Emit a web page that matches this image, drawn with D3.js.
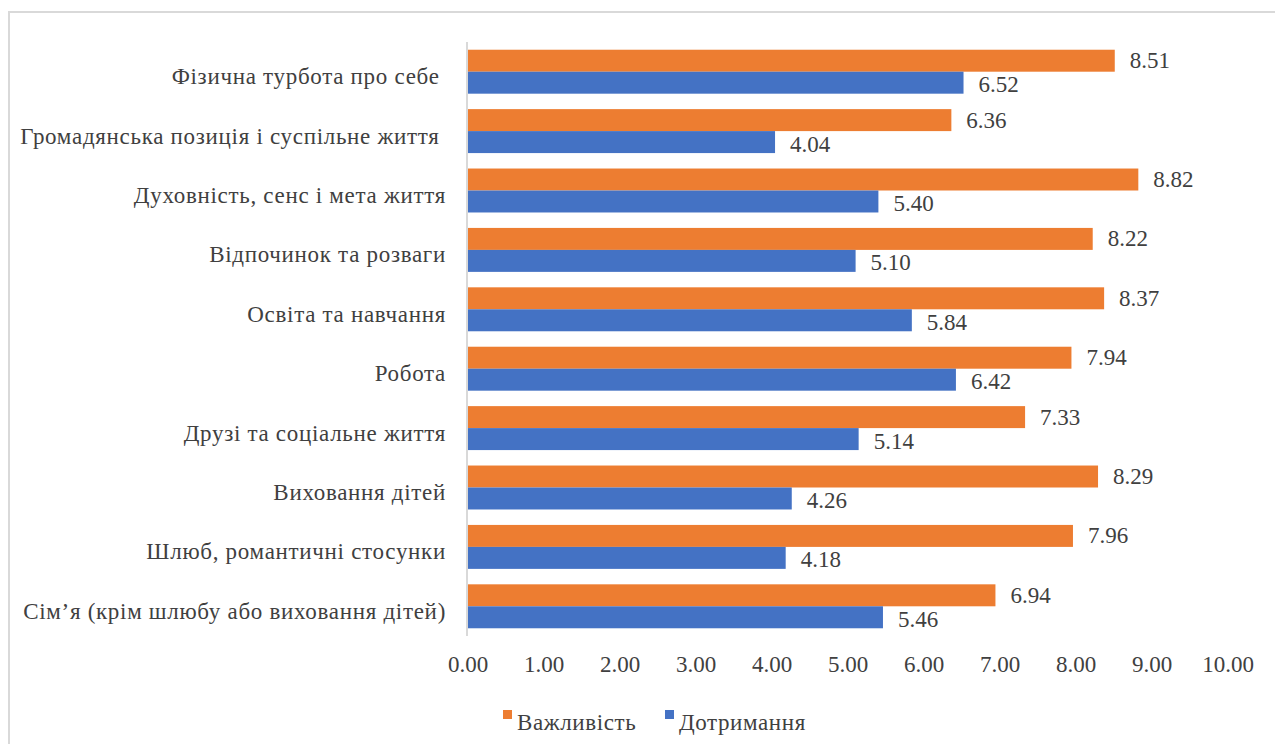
<!DOCTYPE html>
<html>
<head>
<meta charset="utf-8">
<script src="https://cdn.jsdelivr.net/npm/d3@7"></script>
<style>
  body { margin: 0; background: #fff; }
  svg { display: block; }
  svg text { white-space: pre; }
</style>
</head>
<body>
<div id="app"></div>
<script>
// categories top to bottom (two of them keep their trailing space)
const categories = [
	'Фізична турбота про себе ',
	'Громадянська позиція і суспільне життя ',
	'Духовність, сенс і мета життя',
	'Відпочинок та розваги',
	'Освіта та навчання',
	'Робота',
	'Друзі та соціальне життя',
	'Виховання дітей',
	'Шлюб, романтичні стосунки',
	'Сім’я (крім шлюбу або виховання дітей)',
];
const importance = [8.51, 6.36, 8.82, 8.22, 8.37, 7.94, 7.33, 8.29, 7.96, 6.94];
const adherence = [6.52, 4.04, 5.40, 5.10, 5.84, 6.42, 5.14, 4.26, 4.18, 5.46];
const seriesNames = ['Важливість', 'Дотримання'];
const seriesColors = ['#ed7d31', '#4472c4'];
const xTicks = [0, 1, 2, 3, 4, 5, 6, 7, 8, 9, 10];

const W = 1275, H = 744;
const textColor = '#404040';
const FS = 23;
const FONT = '"Liberation Serif", "Times New Roman", serif';

const svg = d3.select('#app').append('svg').attr('width', W).attr('height', H);

// chart frame (cut off at right and bottom)
svg.append('rect')
	.attr('x', 9).attr('y', 12)
	.attr('width', W + 20).attr('height', H + 20)
	.attr('fill', 'none').attr('stroke', '#d9d9d9').attr('stroke-width', 2);

const x = d3.scaleLinear().domain([0, 10]).range([468, 1228]);
const y = d3.scaleBand().domain(categories).range([42, 636]).paddingInner(0.26).paddingOuter(0.13);
const ySub = d3.scaleBand().domain(seriesNames).range([0, y.bandwidth()]);

const rows = categories.map((c, i) => ({ cat: c, vals: [importance[i], adherence[i]] }));

const g = svg.selectAll('g.row').data(rows).join('g')
	.attr('class', 'row')
	.attr('transform', (d) => `translate(0,${y(d.cat)})`);

g.selectAll('rect')
	.data((d) => d.vals.map((v, k) => ({ v, k })))
	.join('rect')
	.attr('x', x(0))
	.attr('y', (d) => ySub(seriesNames[d.k]))
	.attr('width', (d) => x(d.v) - x(0))
	.attr('height', ySub.bandwidth())
	.attr('fill', (d) => seriesColors[d.k]);

g.selectAll('text.val')
	.data((d) => d.vals.map((v, k) => ({ v, k })))
	.join('text')
	.attr('class', 'val')
	.attr('x', (d) => x(d.v) + 15)
	.attr('y', (d) => ySub(seriesNames[d.k]) + ySub.bandwidth() / 2 + (d.k === 1 ? 2 : 0))
	.attr('dominant-baseline', 'central')
	.style('font-family', FONT)
	.attr('font-size', FS).attr('fill', textColor)
	.text((d) => d.v.toFixed(2));

// category labels
svg.append('g')
	.selectAll('text')
	.data(categories)
	.join('text')
	.attr('x', 446)
	.attr('y', (d) => y(d) + y.bandwidth() / 2 + 5)
	.attr('dominant-baseline', 'central')
	.attr('text-anchor', 'end')
	.style('font-family', FONT)
	.style('letter-spacing', '0.7px')
	.attr('font-size', FS).attr('fill', textColor)
	.text((d) => d);

// vertical axis line
svg.append('line')
	.attr('x1', x(0) - 1).attr('x2', x(0) - 1)
	.attr('y1', 42).attr('y2', 636)
	.attr('stroke', '#d9d9d9').attr('stroke-width', 2);

// x tick labels
svg.append('g')
	.selectAll('text')
	.data(xTicks)
	.join('text')
	.attr('x', (d) => x(d))
	.attr('y', 664)
	.attr('dominant-baseline', 'central')
	.attr('text-anchor', 'middle')
	.style('font-family', FONT)
	.attr('font-size', FS).attr('fill', textColor)
	.text((d) => d.toFixed(2));

// legend
const legendX = [503, 665];
const lg = svg.append('g').selectAll('g').data(seriesNames).join('g')
	.attr('transform', (d, i) => `translate(${legendX[i]},0)`);
lg.append('rect')
	.attr('x', 0).attr('y', 710)
	.attr('width', 9).attr('height', 9)
	.attr('fill', (d, i) => seriesColors[i]);
lg.append('text')
	.attr('x', 14).attr('y', 722)
	.attr('dominant-baseline', 'central')
	.style('font-family', FONT)
	.style('letter-spacing', '0.6px')
	.attr('font-size', FS).attr('fill', textColor)
	.text((d) => d);
</script>
</body>
</html>
